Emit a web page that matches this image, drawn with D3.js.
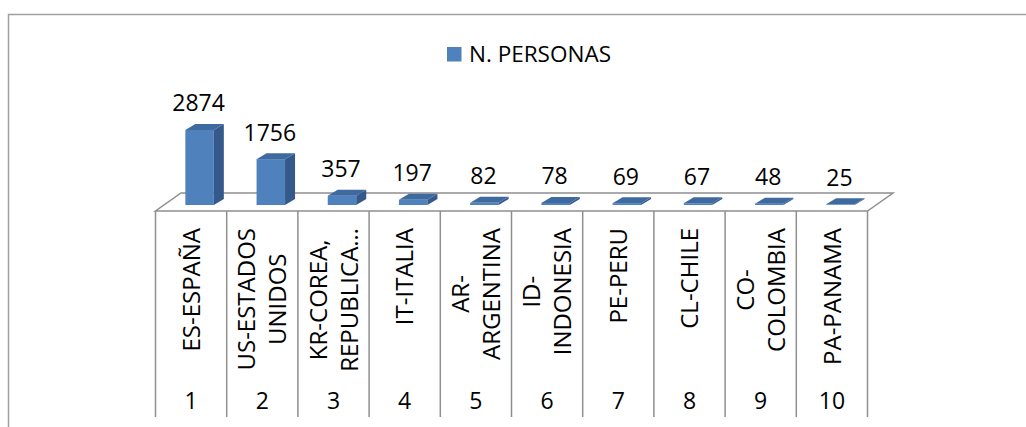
<!DOCTYPE html>
<html>
<head>
<meta charset="utf-8">
<script src="https://cdn.jsdelivr.net/npm/d3@7"></script>
<style>
    body { margin: 0; background: #fff; }
    text { font-family: "Open Sans", sans-serif; fill: #000; }
</style>
</head>
<body>
<svg id="chart" width="1026" height="427"></svg>
<script>
// data
var categories = ["1", "2", "3", "4", "5", "6", "7", "8", "9", "10"]
var countryLabels = [
    ["ES-ESPAÑA"],
    ["US-ESTADOS", "UNIDOS"],
    ["KR-COREA,", "REPUBLICA…"],
    ["IT-ITALIA"],
    ["AR-", "ARGENTINA"],
    ["ID-", "INDONESIA"],
    ["PE-PERU"],
    ["CL-CHILE"],
    ["CO-", "COLOMBIA"],
    ["PA-PANAMA"]
]
var personas = [2874, 1756, 357, 197, 82, 78, 69, 67, 48, 25]
var seriesName = "N. PERSONAS"

var colors = { front: "#4f81bd", side: "#35598a", top: "#3e6a9f", grid: "#8f8f8f" }

var svg = d3.select("#chart")

// outer chart area border (runs off the right and bottom of the picture)
svg.append("rect")
    .attr("x", 8.5).attr("y", 14.5)
    .attr("width", 1100).attr("height", 500)
    .attr("fill", "none")
    .attr("stroke", "#a0a0a0")
    .attr("stroke-width", 1.5)

// scales
var x = d3.scaleBand()
    .domain(categories)
    .range([155.5, 867.5])
var h = d3.scaleLinear()
    .domain([0, 3000])
    .range([0, 78.3])

var floorY = 211,
    floorDx = 25.5, floorDy = 18,     // depth of the floor
    barDx = 10, barDy = 6,            // depth of a bar
    barZ = 6,                         // bar front sits this far behind the floor edge
    barW = x.bandwidth() * 0.4,
    tableBottom = 417

var data = categories.map(function(c, i) {
    return { cat: c, value: personas[i], lines: countryLabels[i] }
})

// floor
var x0 = x.range()[0], x1 = x.range()[1]
svg.append("polygon")
    .attr("points", [
        [x0, floorY], [x1, floorY],
        [x1 + floorDx, floorY - floorDy], [x0 + floorDx, floorY - floorDy]
    ].join(" "))
    .attr("fill", "#fff")
    .attr("stroke", colors.grid)
    .attr("stroke-width", 1.5)

// 3d bars
function barLeft(d) { return x(d.cat) + barZ * floorDx / floorDy + (x.bandwidth() - barW) / 2 }
function barTop(d) { return floorY - barZ - h(d.value) }

var bars = svg.append("g").selectAll("g")
    .data(data)
    .enter().append("g")
    .attr("class", "bar")

bars.append("rect")
    .attr("x", barLeft)
    .attr("y", barTop)
    .attr("width", barW)
    .attr("height", function(d) { return h(d.value) })
    .attr("fill", colors.front)

bars.append("polygon")
    .attr("points", function(d) {
        var bx = barLeft(d) + barW, b = floorY - barZ, t = barTop(d)
        return [[bx, b], [bx + barDx, b - barDy], [bx + barDx, t - barDy], [bx, t]].join(" ")
    })
    .attr("fill", colors.side)

bars.append("polygon")
    .attr("points", function(d) {
        var bx = barLeft(d), t = barTop(d)
        return [[bx, t], [bx + barW, t], [bx + barW + barDx, t - barDy], [bx + barDx, t - barDy]].join(" ")
    })
    .attr("fill", colors.top)

// value labels
svg.append("g").selectAll("text")
    .data(data)
    .enter().append("text")
    .attr("x", function(d) { return barLeft(d) + barW / 2 - 1 })
    .attr("y", function(d) { return barTop(d) - 18.5 })
    .attr("text-anchor", "middle")
    .style("font-size", "23px")
    .text(function(d) { return d.value })

// data table under the floor
var edges = categories.map(function(c) { return x(c) }).concat([x1])
svg.append("g").selectAll("line")
    .data(edges)
    .enter().append("line")
    .attr("x1", function(d) { return d }).attr("x2", function(d) { return d })
    .attr("y1", floorY).attr("y2", tableBottom)
    .attr("stroke", colors.grid)
    .attr("stroke-width", 1.5)

// rotated country names, block top aligned, lines centered on each other
var labelTop = 228, lineStep = 31
var labels = svg.append("g").selectAll("g")
    .data(data)
    .enter().append("g")
    .attr("transform", function(d) {
        return "translate(" + (x(d.cat) + x.bandwidth() / 2) + "," + labelTop + ") rotate(-90)"
    })

labels.each(function(d) {
    var g = d3.select(this)
    var texts = g.selectAll("text")
        .data(d.lines)
        .enter().append("text")
        .attr("text-anchor", "middle")
        .attr("dy", "0.36em")
        .attr("y", function(l, i) { return (i - (d.lines.length - 1) / 2) * lineStep })
        .style("font-size", "24px")
        .text(function(l) { return l })
    var maxLen = d3.max(texts.nodes(), function(n) { return n.getComputedTextLength() })
    texts.attr("x", -maxLen / 2)
})

// category numbers
svg.append("g").selectAll("text")
    .data(data)
    .enter().append("text")
    .attr("x", function(d) { return x(d.cat) + x.bandwidth() / 2 })
    .attr("y", 409)
    .attr("text-anchor", "middle")
    .style("font-size", "23px")
    .text(function(d) { return d.cat })

// legend
var key = svg.append("g").attr("class", "legend")
key.append("rect")
    .attr("x", 447).attr("y", 47)
    .attr("width", 14.5).attr("height", 14.5)
    .attr("fill", colors.front)
key.append("text")
    .attr("x", 469).attr("y", 62)
    .style("font-size", "22.5px")
    .text(seriesName)
</script>
</body>
</html>
